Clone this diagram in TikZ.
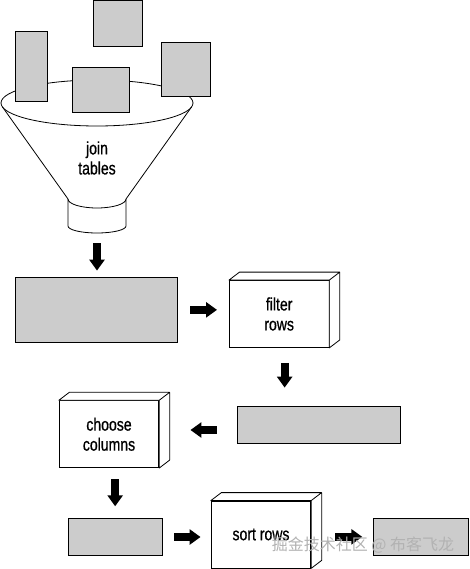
\documentclass[tikz,border=0pt]{standalone}
\usepackage{fontspec}
\setmainfont{Liberation Sans}
\newfontfamily\lblfont{Liberation Sans}[FakeStretch=0.78, FakeBold=0.7]
\newfontfamily\cjk{Noto Sans CJK SC}
\usetikzlibrary{arrows.meta}
\tikzset{
  tbl/.style={draw, line width=0.8pt, fill=black!20, inner sep=0pt},
  box/.style={draw, line width=0.8pt, fill=white, inner sep=0pt, minimum width=99.5pt,
    minimum height=67pt, align=center, font=\lblfont\fontsize{18}{20}\selectfont},
  blockarrow/.style={line width=8pt, -{Triangle[width=15pt,length=11pt]}},
}
\begin{document}
\begin{tikzpicture}[x=1pt,y=-1pt]
\useasboundingbox (0,0) rectangle (469,569);

% funnel
\draw[line width=0.8pt] (97,103) ellipse [x radius=96pt, y radius=23pt];
\draw[line width=0.8pt] (2.5,107) -- (68,199) arc[start angle=180, end angle=360, x radius=29pt, y radius=9pt] -- (191.5,107);
\draw[line width=0.8pt] (68,199) -- (68,226) arc[start angle=180, end angle=360, x radius=29pt, y radius=7pt] -- (126,199);
\coordinate (neck) at (97,233);
\node[align=center, font=\lblfont\fontsize{18}{20}\selectfont] (join) at (97,158) {join\\tables};

\foreach \n/\x/\y/\w/\h in {s1/31.35/66.35/31.3/69.3, s2/118/23.5/48.6/45.5, s3/100.65/90/56.7/45.4,
    s4/185.65/69.35/48.7/54.7, t1/96.35/309.85/161.3/64.3, t2/319/424.5/162.6/37,
    t3/115.15/537/93.7/37.4, t4/420.8/536.85/95/36.3} {
  \node[tbl, minimum width=\w pt, minimum height=\h pt] (\n) at (\x,\y) {};
}

\node[box] (filter) at (279.15,314) {filter\\rows};
\node[box] (choose) at (109,434.2) {choose\\columns};
\node[box] (sort) at (261,534.5) {sort rows};

\foreach \b in {filter,choose,sort}
  \draw[line width=0.8pt, fill=white, line join=round] (\b.north west) -- ++(10.5pt,8pt)
    -- ([shift={(10.5pt,8pt)}]\b.north east) -- ([shift={(10.5pt,8pt)}]\b.south east)
    -- (\b.south east) -- (\b.north east) -- cycle (\b.north east) -- ++(10.5pt,8pt);

\draw[blockarrow, shorten <=10pt, shorten >=6.7pt] (neck) -- (neck |- t1.north);
\draw[blockarrow, shorten <=13pt, shorten >=12pt] (t1.east) -- (t1.east -| filter.west);
\draw[blockarrow, shorten <=15pt, shorten >=18pt] ([xshift=5.5pt]filter.south) -- ([xshift=5.5pt]filter.south |- t2.north);
\draw[blockarrow, shorten <=20.7pt, shorten >=31.3pt] ([yshift=-5.5pt]t2.west) -- ([yshift=-5.5pt]t2.west -| choose.east);
\draw[blockarrow, shorten <=11.3pt, shorten >=11.6pt] (t3.north |- choose.south) -- (t3.north);
\draw[blockarrow, shorten <=11.7pt, shorten >=10.3pt] (t3.east) -- (t3.east -| sort.west);
\draw[blockarrow, shorten <=24.3pt, shorten >=10.6pt] (sort.east |- t4.west) -- (t4.west);

\node[text=gray!60, font=\cjk\fontsize{16}{16}\selectfont] (mark) at (363,545) {掘金技术社区 @ 布客飞龙};
\end{tikzpicture}
\end{document}
